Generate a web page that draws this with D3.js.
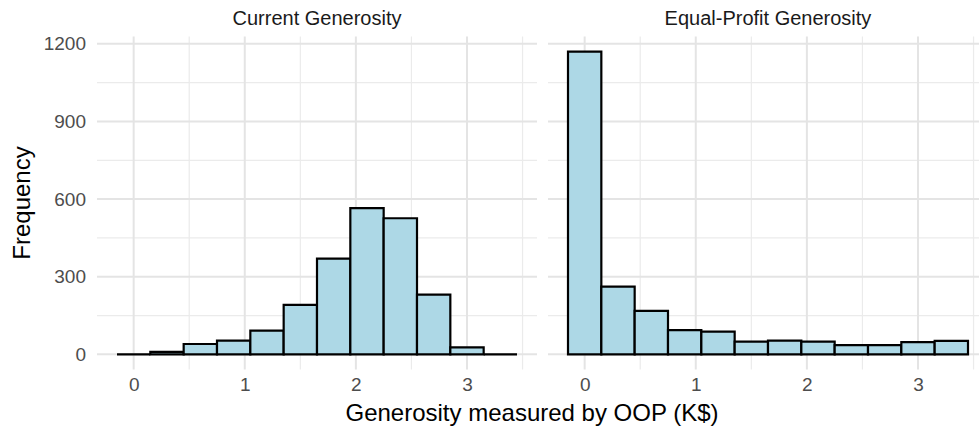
<!DOCTYPE html>
<html>
<head>
<meta charset="utf-8">
<script src="https://cdn.jsdelivr.net/npm/d3@7"></script>
<style>
  body { margin: 0; background: #fff; }
  svg { font-family: "Liberation Sans", Arial, sans-serif; }
  .tickLabel text { fill: #4d4d4d; font-size: 19px; }
  .tickLabel path, .tickLabel line { display: none; }
</style>
</head>
<body>
<div id="chart"></div>
<script>
// DATA
const panelTitles = ["Current Generosity", "Equal-Profit Generosity"];
const binCenters = [0, 0.3, 0.6, 0.9, 1.2, 1.5, 1.8, 2.1, 2.4, 2.7, 3.0, 3.3];
const binWidth = 0.3;
const currentCounts = [0, 10, 40, 53, 92, 191, 370, 565, 526, 231, 27, 0];
const equalProfitCounts = [1170, 262, 168, 94, 88, 49, 53, 49, 36, 36, 47, 52];
const xTicks = [0, 1, 2, 3];
const xMinorTicks = [0.5, 1.5, 2.5, 3.5];
const yTicks = [0, 300, 600, 900, 1200];
const yMinorTicks = [150, 450, 750, 1050];

// CHART CODE
const svgWidth = 979;
const svgHeight = 435;

const panel = { top: 36.5, height: 333, width: 440 };
const panelLefts = [97, 548];

const svg = d3.select("#chart")
  .append("svg")
  .attr("width", svgWidth)
  .attr("height", svgHeight);

// shared scales (ggplot-style 5% expansion)
const xMin = binCenters[0] - binWidth / 2;
const xMax = binCenters[binCenters.length - 1] + binWidth / 2;
const xPad = (xMax - xMin) * 0.05;
const xScale = d3.scaleLinear()
  .domain([xMin - xPad, xMax + xPad])
  .range([0, panel.width]);

const yMaxData = d3.max(currentCounts.concat(equalProfitCounts));
const yScale = d3.scaleLinear()
  .domain([-yMaxData * 0.05, yMaxData * 1.05])
  .range([panel.height, 0]);

const allCounts = [currentCounts, equalProfitCounts];

// bar outline as a path so empty bins still draw a flat line
const barPath = function(count, j) {
  const x0 = xScale(binCenters[j] - binWidth / 2);
  const x1 = xScale(binCenters[j] + binWidth / 2);
  const y0 = yScale(0);
  const y1 = yScale(count);
  return `M${x0},${y0}V${y1}H${x1}V${y0}Z`;
};

panelLefts.forEach((left, i) => {
  const g = svg.append("g")
    .attr("transform", `translate(${left}, ${panel.top})`);

  // minor grid
  g.selectAll(".yMinor").data(yMinorTicks).enter().append("line")
    .attr("x1", 0).attr("x2", panel.width)
    .attr("y1", d => yScale(d)).attr("y2", d => yScale(d))
    .attr("stroke", "#ebebeb").attr("stroke-width", 1.2);
  g.selectAll(".xMinor").data(xMinorTicks).enter().append("line")
    .attr("y1", 0).attr("y2", panel.height)
    .attr("x1", d => xScale(d)).attr("x2", d => xScale(d))
    .attr("stroke", "#ebebeb").attr("stroke-width", 1.2);

  // major grid
  g.selectAll(".yMajor").data(yTicks).enter().append("line")
    .attr("x1", 0).attr("x2", panel.width)
    .attr("y1", d => yScale(d)).attr("y2", d => yScale(d))
    .attr("stroke", "#e4e4e4").attr("stroke-width", 2);
  g.selectAll(".xMajor").data(xTicks).enter().append("line")
    .attr("y1", 0).attr("y2", panel.height)
    .attr("x1", d => xScale(d)).attr("x2", d => xScale(d))
    .attr("stroke", "#e4e4e4").attr("stroke-width", 2);

  // bars
  g.selectAll(".bar").data(allCounts[i]).enter().append("path")
    .attr("d", barPath)
    .attr("fill", "#add8e6")
    .attr("stroke", "#000")
    .attr("stroke-width", 2.2);

  // strip title
  svg.append("text")
    .attr("x", left + panel.width / 2)
    .attr("y", 25)
    .attr("text-anchor", "middle")
    .attr("fill", "#1a1a1a")
    .attr("font-size", "20px")
    .text(panelTitles[i]);

  // x axis labels
  g.append("g")
    .attr("class", "tickLabel")
    .attr("transform", `translate(0, ${panel.height})`)
    .call(d3.axisBottom(xScale).tickValues(xTicks).tickSize(0).tickPadding(8).tickFormat(d3.format("d")));

  // y axis labels (left panel only)
  if (i === 0) {
    g.append("g")
      .attr("class", "tickLabel")
      .call(d3.axisLeft(yScale).tickValues(yTicks).tickSize(0).tickPadding(11).tickFormat(d3.format("d")));
  }
});

// axis titles
svg.append("text")
  .attr("x", 532)
  .attr("y", 421)
  .attr("text-anchor", "middle")
  .attr("font-size", "24px")
  .attr("fill", "#000")
  .text("Generosity measured by OOP (K$)");

svg.append("text")
  .attr("transform", `translate(30, ${panel.top + panel.height / 2}) rotate(-90)`)
  .attr("text-anchor", "middle")
  .attr("font-size", "24px")
  .attr("fill", "#000")
  .text("Frequency");
</script>
</body>
</html>
